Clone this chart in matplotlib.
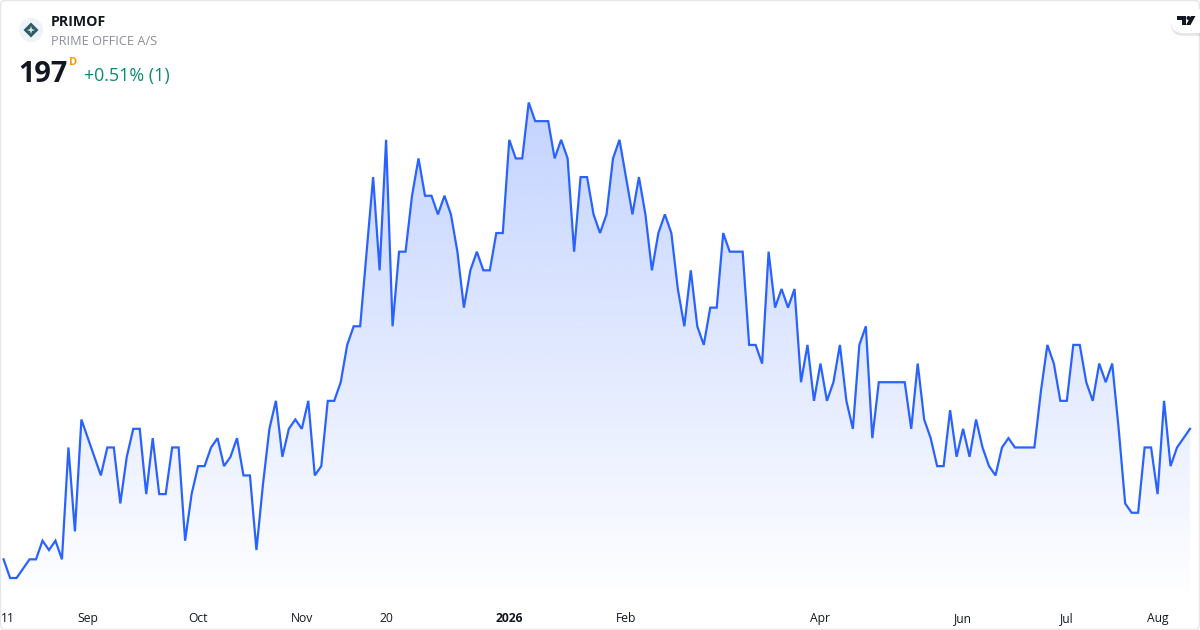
import numpy as np
import matplotlib
matplotlib.use("Agg")
import matplotlib.pyplot as plt
from matplotlib.patches import FancyBboxPatch, Circle, Polygon, PathPatch
from matplotlib.colors import to_rgb
import matplotlib.patheffects as pe

plt.rcParams['font.family'] = ['Open Sans', 'DejaVu Sans']

prices = [
    190, 189, 189, 189.5, 190, 190, 191, 190.5, 191, 190,
    196, 191.5, 197.5, 196.5, 195.5, 194.5, 196, 196, 193, 195.5,
    197, 197, 193.5, 196.5, 193.5, 193.5, 196, 196, 191, 193.5,
    195, 195, 196, 196.5, 195, 195.5, 196.5, 194.5, 194.5, 190.5,
    194, 197, 198.5, 195.5, 197, 197.5, 197, 198.5, 194.5, 195,
    198.5, 198.5, 199.5, 201.5, 202.5, 202.5, 206.5, 210.5, 205.5, 212.5,
    202.5, 206.5, 206.5, 209.5, 211.5, 209.5, 209.5, 208.5, 209.5, 208.5,
    206.5, 203.5, 205.5, 206.5, 205.5, 205.5, 207.5, 207.5, 212.5, 211.5,
    211.5, 214.5, 213.5, 213.5, 213.5, 211.5, 212.5, 211.5, 206.5, 210.5,
    210.5, 208.5, 207.5, 208.5, 211.5, 212.5, 210.5, 208.5, 210.5, 208.5,
    205.5, 207.5, 208.5, 207.5, 204.5, 202.5, 205.5, 202.5, 201.5, 203.5,
    203.5, 207.5, 206.5, 206.5, 206.5, 201.5, 201.5, 200.5, 206.5, 203.5,
    204.5, 203.5, 204.5, 199.5, 201.5, 198.5, 200.5, 198.5, 199.5, 201.5,
    198.5, 197, 201.5, 202.5, 196.5, 199.5, 199.5, 199.5, 199.5, 199.5,
    197, 200.5, 197.5, 196.5, 195, 195, 198, 195.5, 197, 195.5,
    197.5, 196, 195, 194.5, 196, 196.5, 196, 196, 196, 196,
    199, 201.5, 200.5, 198.5, 198.5, 201.5, 201.5, 199.5, 198.5, 200.5,
    199.5, 200.5, 197, 193, 192.5, 192.5, 196, 196, 193.5, 198.5,
    195, 196, 196.5, 197,
]
tick_positions = [0.7, 13, 30, 46, 59, 78, 96, 126, 148, 164, 178]
tick_labels = ["11", "Sep", "Oct", "Nov", "20", "2026", "Feb", "Apr", "Jun", "Jul", "Aug"]
symbol = "PRIMOF"
company = "PRIME OFFICE A/S"
last_price = "197"
interval = "D"
change = "+0.51% (1)"

W, H = 1200, 630
LINE = "#2962FF"
X0, DX = 3.6, 6.483      # px of first bar, px per bar
Y189, DY = 578.0, 18.647 # px of price 189, px per price unit
AX_BOTTOM = 602

fig = plt.figure(figsize=(W / 100, H / 100), dpi=100, facecolor="white")
ax = fig.add_axes([0, 1 - AX_BOTTOM / H, 1, AX_BOTTOM / H])
xlim = (-X0 / DX, (W - X0) / DX)
ylim = (189 - (AX_BOTTOM - Y189) / DY, 189 + Y189 / DY)
for s in ax.spines.values():
    s.set_visible(False)
ax.yaxis.set_visible(False)

x = np.arange(len(prices))
y = np.array(prices, dtype=float)

ybot = ylim[0]
ytop = y.max()
poly = ax.fill_between(x, y, ybot, color="none", lw=0)
n = 256
rgba = np.zeros((n, 1, 4))
rgba[..., :3] = to_rgb(LINE)
rgba[:, 0, 3] = np.linspace(0.28, 0.0, n)
img = ax.imshow(rgba, extent=(x[0], x[-1], ybot, ytop), aspect="auto",
                origin="upper", zorder=1, interpolation="bilinear")
img.set_clip_path(PathPatch(poly.get_paths()[0], transform=ax.transData))
ax.set_xlim(*xlim)
ax.set_ylim(*ylim)

ax.plot(x, y, color=LINE, lw=1.6, solid_joinstyle="miter", zorder=2)

ax.set_xticks(tick_positions)
ax.set_xticklabels(tick_labels, fontsize=8.7, color="#131722")
ax.tick_params(axis="x", length=0, pad=7.5)
for lab in ax.get_xticklabels():
    if lab.get_text() == "2026":
        lab.set_fontweight("bold")

ov = fig.add_axes([0, 0, 1, 1], facecolor="none")
ov.set_xlim(0, W)
ov.set_ylim(H, 0)
ov.axis("off")

ov.add_patch(FancyBboxPatch((0.5, 0.5), W - 1, H - 1,
                            boxstyle="round,pad=0,rounding_size=5",
                            fc="none", ec="#E6E6E6", lw=1.0))

ov.add_patch(Circle((31, 30), 12, fc="#EEF2F9", ec="none"))
ov.add_patch(Polygon([(31, 22.5), (38.5, 30), (31, 37.5), (23.5, 30)], fc="#2C5C66", ec="none"))
ov.add_patch(Polygon([(31, 26), (32, 29), (35, 30), (32, 31), (31, 34), (30, 31), (27, 30), (30, 29)],
                     fc="#DDE8EA", ec="none"))

ov.text(51, 26, symbol, fontsize=10.2, fontweight="bold", color="#131722", va="baseline")
ov.text(51, 45, company, fontsize=9.15, color="#8C8F98", va="baseline")
ov.text(18.5, 82, last_price, fontsize=20.8, fontweight="bold", color="#131722", va="baseline")
ov.text(69, 65, interval, fontsize=8, fontweight="bold", color="#FF9800", va="baseline")
ov.text(84, 81, change, fontsize=12.9, color="#0B8A73", va="baseline")

badge = FancyBboxPatch((1171, 9), 60, 24, boxstyle="round,pad=0,rounding_size=12",
                       fc="white", ec="none", zorder=5,
                       path_effects=[pe.SimplePatchShadow(offset=(0, -2), alpha=0.10, shadow_rgbFace="#000000"),
                                     pe.Normal()])
ov.add_patch(badge)
ov.add_patch(Polygon([(1177, 16), (1186, 16), (1186, 25), (1182, 25), (1182, 20), (1177, 20)],
                     fc="#131722", ec="none", zorder=6))
ov.add_patch(Circle((1188.5, 18), 2, fc="#131722", ec="none", zorder=6))
ov.add_patch(Polygon([(1191, 16), (1195.5, 16), (1190.5, 25), (1186, 25)], fc="#131722", ec="none", zorder=6))

fig.savefig("out.png", dpi=100, facecolor="white")
